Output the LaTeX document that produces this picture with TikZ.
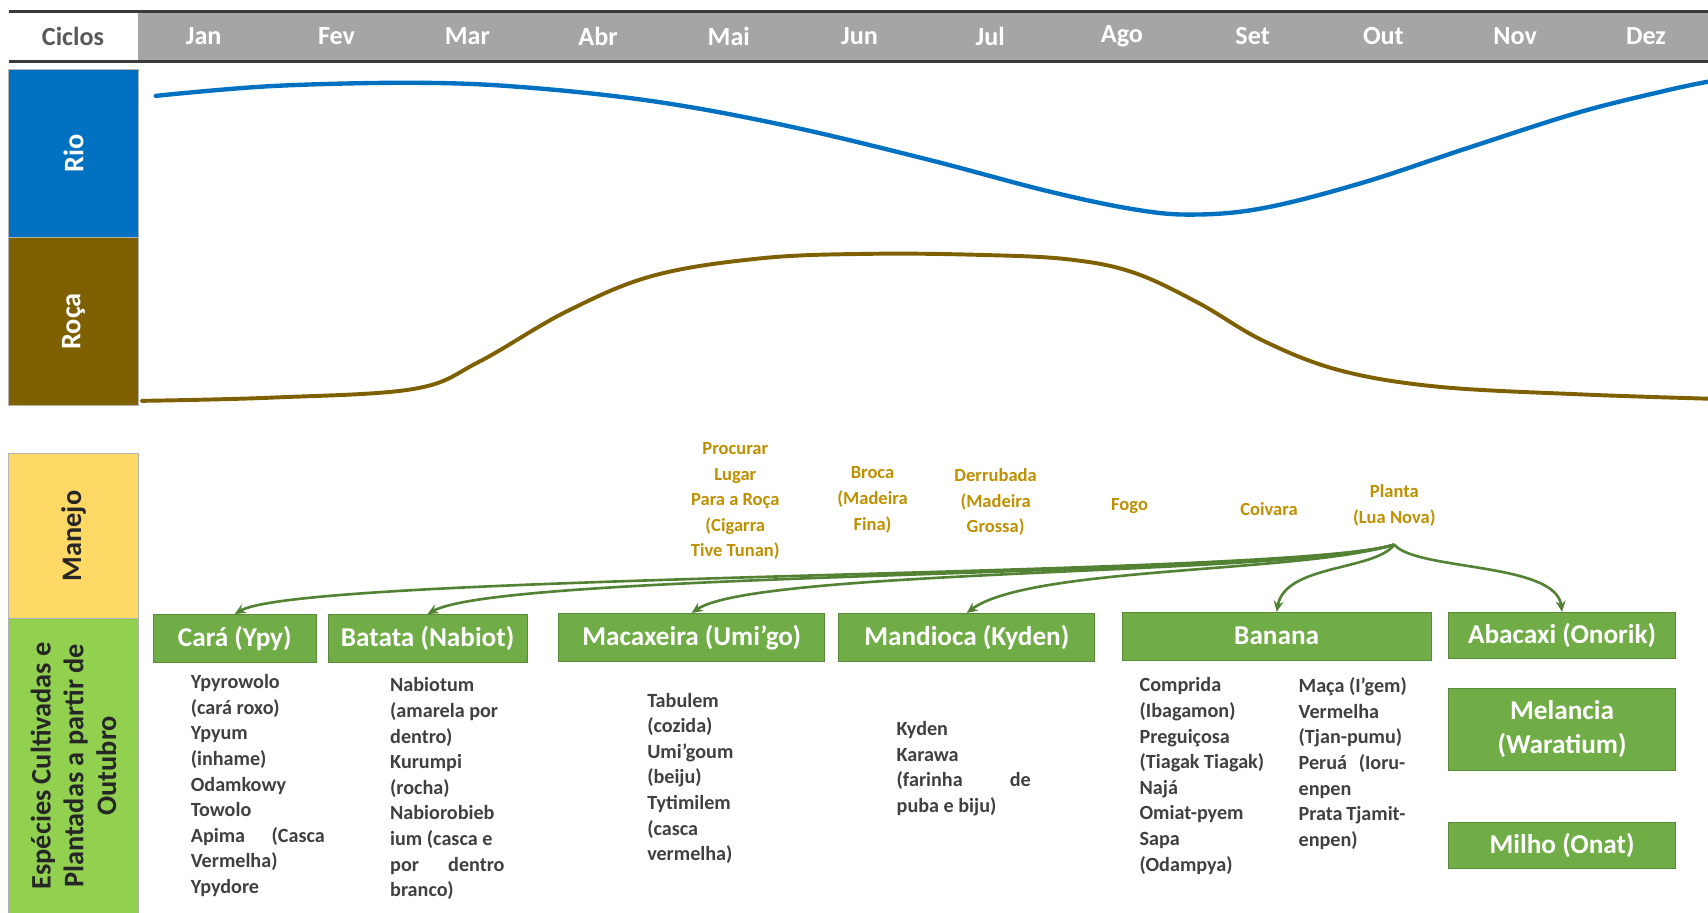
\documentclass[tikz,border=0pt]{standalone}
\usepackage{fontspec}
\setmainfont{Carlito}
\usetikzlibrary{arrows.meta}
\definecolor{rioblue}{HTML}{0070C0}
\definecolor{rocabrown}{HTML}{7F6000}
\definecolor{manyellow}{HTML}{FFD966}
\definecolor{espgreen}{HTML}{92D050}
\definecolor{boxgreen}{HTML}{70AD47}
\definecolor{arrgreen}{HTML}{548235}
\definecolor{mantext}{HTML}{BF9000}
\definecolor{listtext}{HTML}{404040}
\definecolor{hdrgray}{HTML}{A5A5A5}
\definecolor{darkline}{HTML}{3A3A3A}
\definecolor{ciclosgray}{HTML}{595959}
\begin{document}
\begin{tikzpicture}[x=1pt,y=-1pt,
  hdr/.style={font=\bfseries\fontsize{24}{28}\selectfont, text=white, inner sep=0pt},
  sidebox/.style={rotate=90, draw=gray!60, line width=0.6pt, inner sep=0pt, minimum height=119pt, align=center, font=\bfseries\fontsize{26}{30}\selectfont},
  mtxt/.style={text=mantext, align=center, inner sep=0pt, font=\bfseries\fontsize{17}{23.5}\selectfont},
  gbox/.style={fill=boxgreen, draw=boxgreen!80!black, line width=0.6pt, text=white, inner sep=0pt, minimum height=44pt, align=center, font=\bfseries\fontsize{25}{31}\selectfont},
  ltxt/.style={text=listtext, align=left, inner sep=0pt, anchor=north west, font=\bfseries\fontsize{18.5}{23.5}\selectfont},
  arr/.style={draw=arrgreen, line width=2.4pt, -{Stealth[length=10pt,width=9pt]}},
  riocurve/.style={draw=rioblue, line width=4pt, line cap=round},
  rocacurve/.style={draw=rocabrown, line width=3.6pt, line cap=round}
]
\useasboundingbox (0,0) rectangle (1568,838);
\fill[white] (0,0) rectangle (1568,838);

% header
\fill[hdrgray] (127,12) rectangle (1568,55);
\draw[darkline, line width=3pt] (8,10.5) -- (1568,10.5);
\draw[darkline, line width=3pt] (8,56.5) -- (1568,56.5);
\node[hdr, text=ciclosgray] (ciclos) at (67,33) {Ciclos};
\node[hdr] (jan) at (187,33) {Jan};
\node[hdr] (fev) at (309,33) {Fev};
\node[hdr] (mar) at (429,33) {Mar};
\node[hdr] (abr) at (549,33) {Abr};
\node[hdr] (mai) at (669,33) {Mai};
\node[hdr] (jun) at (789,33) {Jun};
\node[hdr] (jul) at (909,33) {Jul};
\node[hdr] (ago) at (1030,33) {Ago};
\node[hdr] (set) at (1150,33) {Set};
\node[hdr] (out) at (1270,33) {Out};
\node[hdr] (nov) at (1391,33) {Nov};
\node[hdr] (dez) at (1511,33) {Dez};

% side boxes
\node[sidebox, fill=rioblue, text=white, minimum width=154pt] (rio) at (67.5,141) {Rio};
\node[sidebox, fill=rocabrown, text=white, minimum width=154pt] (roca) at (67.5,295) {Roça};
\node[sidebox, fill=manyellow, text=black!85, minimum width=152pt] (manejo) at (67.5,492) {Manejo};
\node[sidebox, fill=espgreen, text=black!85, minimum width=270pt] (especies) at (67.5,703) {Espécies Cultivadas e\\Plantadas a partir de\\Outubro};

% curves
\draw[riocurve] plot[smooth, tension=0.6] coordinates {(143,88) (250,79) (380,76) (480,80) (600,93) (720,115) (850,146) (960,175) (1040,192) (1095,197) (1160,191) (1250,168) (1350,135) (1450,103) (1530,83) (1568,75)};
\draw[rocacurve] plot[smooth, tension=0.6] coordinates {(130,368) (250,365) (380,357) (440,332) (520,286) (600,253) (700,237) (800,233) (900,234) (980,238) (1040,250) (1100,278) (1160,313) (1230,340) (1320,355) (1450,362) (1568,366)};

% manejo labels
\node[mtxt] (procurar) at (675,460) {Procurar\\Lugar\\Para a Roça\\(Cigarra\\Tive Tunan)};
\node[mtxt] (broca) at (801,459) {Broca\\(Madeira\\Fina)};
\node[mtxt] (derrubada) at (914,461) {Derrubada\\(Madeira\\Grossa)};
\node[mtxt] (fogo) at (1037,465) {Fogo};
\node[mtxt] (coivara) at (1165,467) {Coivara};
\node[mtxt] (planta) at (1280,464) {Planta\\(Lua Nova)};
\coordinate (pl) at (1280,500);

% green boxes
\node[gbox, minimum width=149pt] (cara) at (215.5,586) {Cará (Ypy)};
\node[gbox, minimum width=183pt] (batata) at (392.5,586) {Batata (Nabiot)};
\node[gbox, minimum width=244pt] (macaxeira) at (635,585) {Macaxeira (Umi’go)};
\node[gbox, minimum width=235pt] (mandioca) at (887.5,585) {Mandioca (Kyden)};
\node[gbox, minimum width=284pt] (banana) at (1172,584) {Banana};
\node[gbox, minimum width=208pt, minimum height=42pt] (abacaxi) at (1434,583) {Abacaxi (Onorik)};
\node[gbox, minimum width=208pt, minimum height=75pt] (melancia) at (1434,669.5) {Melancia\\(Waratium)};
\node[gbox, minimum width=208pt, minimum height=42pt] (milho) at (1434,776) {Milho (Onat)};

% arrows
\draw[arr] (pl) .. controls (1180,530) and (280,526) .. (cara.north);
\draw[arr] (pl) .. controls (1180,530) and (465,524) .. (batata.north);
\draw[arr] (pl) .. controls (1185,528) and (695,522) .. (macaxeira.north);
\draw[arr] (pl) .. controls (1195,526) and (945,520) .. (mandioca.north);
\draw[arr] (pl) .. controls (1262,524) and (1180,518) .. (banana.north);
\draw[arr] (pl) .. controls (1300,524) and (1428,516) .. (abacaxi.north);

% lists
\node[ltxt] (caralist) at (175,619) {Ypyrowolo\\(cará roxo)\\Ypyum\\(inhame)\\Odamkowy\\Towolo\\\makebox[123pt][s]{Apima (Casca}\\Vermelha)\\Ypydore};
\node[ltxt] (batatalist) at (358,622) {Nabiotum\\(amarela por\\dentro)\\Kurumpi\\(rocha)\\Nabiorobieb\\ium (casca e\\\makebox[105pt][s]{por dentro}\\branco)};
\node[ltxt] (macaxeiralist) at (594,636) {Tabulem\\(cozida)\\Umi’goum\\(beiju)\\Tytimilem\\(casca\\vermelha)};
\node[ltxt] (mandiocalist) at (823,662) {Kyden\\Karawa\\\makebox[123pt][s]{(farinha de}\\puba e biju)};
\node[ltxt] (bananalistA) at (1046,622) {Comprida\\(Ibagamon)\\Preguiçosa\\(Tiagak Tiagak)\\Najá\\Omiat-pyem\\Sapa\\(Odampya)};
\node[ltxt] (bananalistB) at (1192,622) {Maça (I’gem)\\Vermelha\\(Tjan-pumu)\\\makebox[98pt][s]{Peruá (Ioru-}\\enpen\\\makebox[98pt][s]{Prata Tjamit-}\\enpen)};
\end{tikzpicture}
\end{document}
